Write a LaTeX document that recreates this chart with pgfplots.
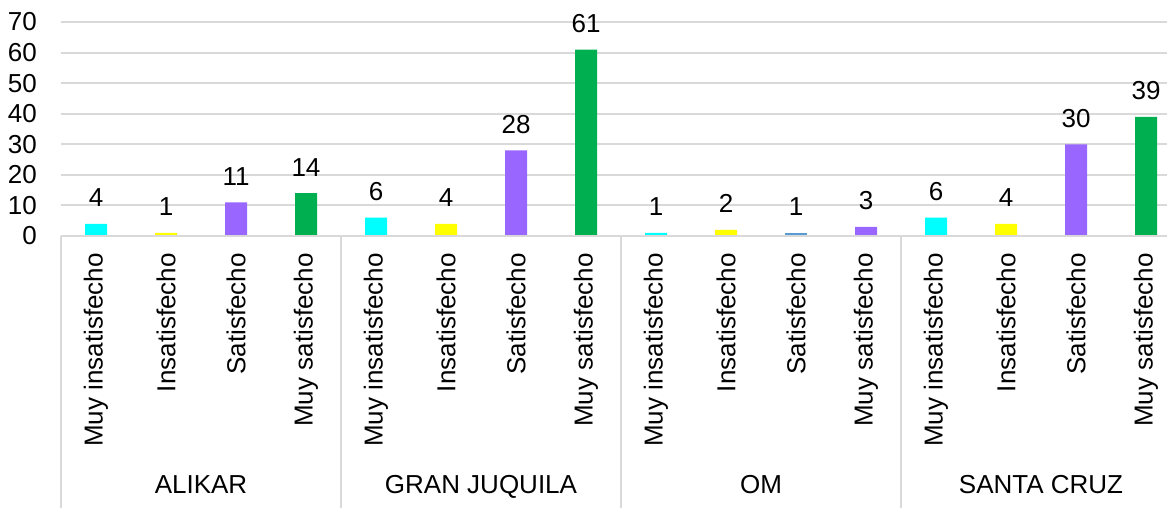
\documentclass[border=0pt]{standalone}
\usepackage{fontspec}
\setmainfont{Liberation Sans}
\usepackage{pgfplots}
\pgfplotsset{compat=1.18}

\definecolor{cCyan}{HTML}{00FFFF}
\definecolor{cYellow}{HTML}{FFFF00}
\definecolor{cPurple}{HTML}{9966FF}
\definecolor{cGreen}{HTML}{00B050}
\definecolor{cBlue}{HTML}{5B9BD5}
\definecolor{cGrid}{HTML}{D9D9D9}

\newcommand{\cf}{\fontsize{19.5}{23}\selectfont}

\begin{document}
\begin{tikzpicture}
\begin{axis}[
    scale only axis,
    width=829.5pt, height=160.5pt,
    xmin=-0.5, xmax=15.3,
    ymin=0, ymax=70,
    ytick={0,10,...,70},
    xtick={0,...,15},
    xticklabels={Muy insatisfecho,Insatisfecho,Satisfecho,Muy satisfecho,
                 Muy insatisfecho,Insatisfecho,Satisfecho,Muy satisfecho,
                 Muy insatisfecho,Insatisfecho,Satisfecho,Muy satisfecho,
                 Muy insatisfecho,Insatisfecho,Satisfecho,Muy satisfecho},
    major tick length=0pt,
    ymajorgrids,
    grid style={cGrid, line width=1.5pt},
    axis line style={draw=none},
    /pgf/number format/assume math mode=true,
    tick label style={font=\cf},
    yticklabel style={inner sep=0pt, xshift=-18pt},
    xticklabel style={inner sep=0pt, yshift=-12.75pt, rotate=90, anchor=east},
    ybar, bar width=16.5pt, bar shift=0pt,
    nodes near coords,
    nodes near coords style={font=\cf, anchor=base, inner sep=0pt, yshift=12.75pt, text=black},
    clip=false,
]
\addplot[fill=cCyan, draw=none] coordinates {(0,4) (4,6) (8,1) (12,6)};
\addplot[fill=cYellow, draw=none] coordinates {(1,1) (5,4) (9,2) (13,4)};
\addplot[fill=cPurple, draw=none] coordinates {(2,11) (6,28) (11,3) (14,30)};
\addplot[fill=cGreen, draw=none] coordinates {(3,14) (7,61) (15,39)};
\addplot[fill=cBlue, draw=none] coordinates {(10,1)};

\draw[cGrid, line width=1.5pt] (axis cs:-0.5,0) -- (axis cs:15.3,0);
\pgfplotsinvokeforeach{-0.5,3.5,7.5,11.5}{
  \draw[cGrid, line width=1.5pt] (axis cs:#1,0) -- ++(0pt,-204pt);
}
\node[font=\cf, anchor=base, inner sep=0pt] at ([yshift=-192.75pt]axis cs:1.5,0) {ALIKAR};
\node[font=\cf, anchor=base, inner sep=0pt] at ([yshift=-192.75pt]axis cs:5.5,0) {GRAN JUQUILA};
\node[font=\cf, anchor=base, inner sep=0pt] at ([yshift=-192.75pt]axis cs:9.5,0) {OM};
\node[font=\cf, anchor=base, inner sep=0pt] at ([yshift=-192.75pt]axis cs:13.5,0) {SANTA CRUZ};
\end{axis}
\pgfresetboundingbox
\path (-45.75pt,-204pt) rectangle (829.5pt,177pt);
\end{tikzpicture}
\end{document}
